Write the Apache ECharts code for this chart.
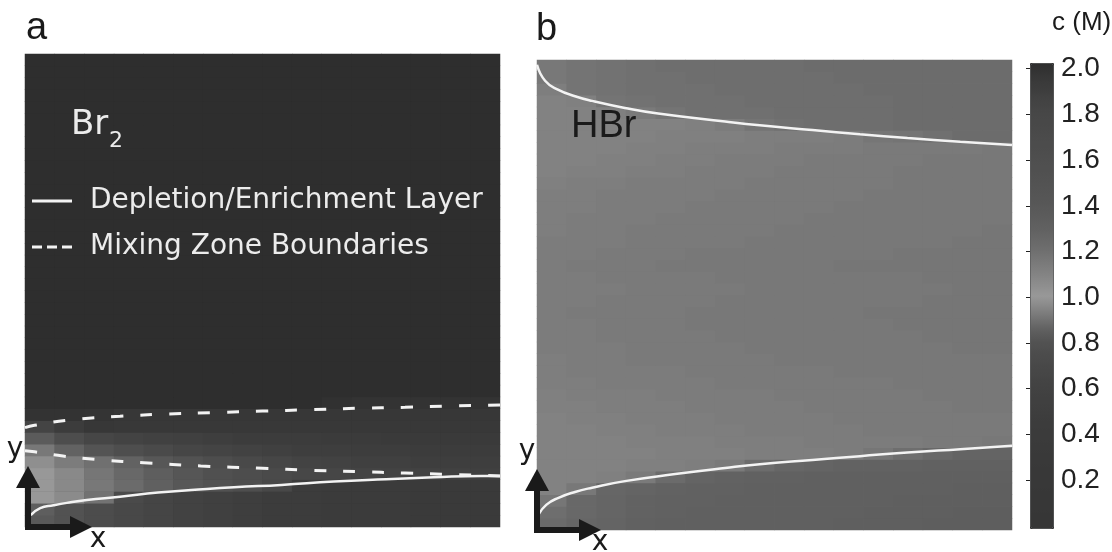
<!DOCTYPE html>
<html>
<head>
<meta charset="utf-8">
<script src="https://cdn.jsdelivr.net/npm/echarts@6/dist/echarts.min.js"></script>
<style>html,body{margin:0;padding:0;background:#fff}#c{width:1112px;height:552px}</style>
</head>
<body>
<div id="c"></div>
<script>
// ---- cell centres (fraction of channel length / height) ----
const X_CELLS = ['0.031','0.094','0.156','0.219','0.281','0.344','0.406','0.469','0.531','0.594','0.656','0.719','0.781','0.844','0.906','0.969'];
const Y_CELLS = ['0.013','0.038','0.063','0.088','0.113','0.138','0.163','0.188','0.213','0.238','0.263','0.288','0.313','0.338','0.363','0.388','0.413','0.438','0.463','0.488','0.513','0.538','0.563','0.588','0.613','0.638','0.663','0.688','0.713','0.738','0.763','0.788','0.813','0.838','0.863','0.888','0.913','0.938','0.963','0.988'];

// ---- Br2 concentration (M), rows bottom -> top, columns left -> right ----
const BR2_ROWS = [
  [0.83,0.8,0.75,0.7,0.65,0.6,0.55,0.5,0.45,0.45,0.4,0.4,0.4,0.35,0.35,0.35],
  [0.85,0.8,0.75,0.7,0.65,0.6,0.55,0.5,0.45,0.45,0.4,0.4,0.4,0.35,0.35,0.35],
  [1.0,1.06,1.18,0.72,0.65,0.6,0.55,0.5,0.45,0.45,0.4,0.4,0.4,0.35,0.35,0.35],
  [1.0,1.07,1.15,1.22,1.3,1.4,1.5,1.6,1.75,0.45,0.4,0.4,0.4,0.35,0.35,0.35],
  [1.0,1.07,1.16,1.24,1.32,1.42,1.55,1.62,1.7,1.78,1.8,1.82,1.84,1.85,1.86,1.87],
  [1.04,1.13,1.19,1.28,1.4,1.5,1.62,1.72,1.8,1.84,1.85,1.87,1.87,1.88,1.88,1.88],
  [1.15,1.28,1.45,1.6,1.7,1.8,1.83,1.85,1.87,1.88,1.88,1.89,1.89,1.9,1.9,1.9],
  [1.35,1.62,1.8,1.84,1.86,1.87,1.88,1.9,1.9,1.9,1.91,1.91,1.92,1.92,1.92,1.92],
  [1.83,1.9,1.94,1.93,1.93,1.93,1.93,1.93,1.93,1.93,1.93,1.93,1.93,1.93,1.93,1.93],
  [1.97,1.97,1.96,1.94,1.94,1.94,1.94,1.94,1.94,1.94,1.94,1.94,1.94,1.94,1.94,1.94],
  [2,2,2,2,2,2,2,2,2,2,1.98,1.97,1.97,1.97,1.97,1.97],
  [2,2,2,2,2,2,2,2,2,2,2,2,2,2,2,2],
  [2,2,2,2,2,2,2,2,2,2,2,2,2,2,2,2],
  [2,2,2,2,2,2,2,2,2,2,2,2,2,2,2,2],
  [2,2,2,2,2,2,2,2,2,2,2,2,2,2,2,2],
  [2,2,2,2,2,2,2,2,2,2,2,2,2,2,2,2],
  [2,2,2,2,2,2,2,2,2,2,2,2,2,2,2,2],
  [2,2,2,2,2,2,2,2,2,2,2,2,2,2,2,2],
  [2,2,2,2,2,2,2,2,2,2,2,2,2,2,2,2],
  [2,2,2,2,2,2,2,2,2,2,2,2,2,2,2,2],
  [2,2,2,2,2,2,2,2,2,2,2,2,2,2,2,2],
  [2,2,2,2,2,2,2,2,2,2,2,2,2,2,2,2],
  [2,2,2,2,2,2,2,2,2,2,2,2,2,2,2,2],
  [2,2,2,2,2,2,2,2,2,2,2,2,2,2,2,2],
  [2,2,2,2,2,2,2,2,2,2,2,2,2,2,2,2],
  [2,2,2,2,2,2,2,2,2,2,2,2,2,2,2,2],
  [2,2,2,2,2,2,2,2,2,2,2,2,2,2,2,2],
  [2,2,2,2,2,2,2,2,2,2,2,2,2,2,2,2],
  [2,2,2,2,2,2,2,2,2,2,2,2,2,2,2,2],
  [2,2,2,2,2,2,2,2,2,2,2,2,2,2,2,2],
  [2,2,2,2,2,2,2,2,2,2,2,2,2,2,2,2],
  [2,2,2,2,2,2,2,2,2,2,2,2,2,2,2,2],
  [2,2,2,2,2,2,2,2,2,2,2,2,2,2,2,2],
  [2,2,2,2,2,2,2,2,2,2,2,2,2,2,2,2],
  [2,2,2,2,2,2,2,2,2,2,2,2,2,2,2,2],
  [2,2,2,2,2,2,2,2,2,2,2,2,2,2,2,2],
  [2,2,2,2,2,2,2,2,2,2,2,2,2,2,2,2],
  [2,2,2,2,2,2,2,2,2,2,2,2,2,2,2,2],
  [2,2,2,2,2,2,2,2,2,2,2,2,2,2,2,2],
  [2,2,2,2,2,2,2,2,2,2,2,2,2,2,2,2]
];

// ---- HBr concentration (M), rows bottom -> top ----
const HBR_ROWS = [
  [1.22,1.25,1.27,1.29,1.3,1.3,1.3,1.3,1.3,1.3,1.31,1.31,1.31,1.32,1.32,1.32],
  [1.2,1.24,1.26,1.28,1.29,1.3,1.3,1.3,1.3,1.3,1.3,1.31,1.31,1.31,1.32,1.32],
  [1.16,1.24,1.26,1.28,1.29,1.29,1.3,1.3,1.3,1.3,1.3,1.3,1.31,1.31,1.31,1.31],
  [1.1,1.15,1.25,1.27,1.28,1.29,1.29,1.3,1.3,1.3,1.3,1.3,1.3,1.3,1.31,1.31],
  [1.1,1.1,1.11,1.14,1.22,1.27,1.28,1.29,1.29,1.3,1.3,1.3,1.3,1.3,1.3,1.3],
  [1.1,1.1,1.1,1.11,1.11,1.12,1.14,1.21,1.25,1.27,1.28,1.28,1.28,1.29,1.29,1.29],
  [1.1,1.1,1.1,1.1,1.11,1.11,1.11,1.12,1.12,1.12,1.13,1.16,1.2,1.24,1.27,1.27],
  [1.1,1.1,1.1,1.11,1.11,1.11,1.12,1.12,1.12,1.13,1.13,1.13,1.13,1.14,1.14,1.15],
  [1.1,1.1,1.11,1.11,1.12,1.12,1.12,1.13,1.13,1.13,1.13,1.14,1.14,1.14,1.14,1.14],
  [1.1,1.11,1.11,1.12,1.12,1.12,1.13,1.13,1.13,1.13,1.14,1.14,1.14,1.14,1.14,1.14],
  [1.11,1.11,1.12,1.12,1.12,1.13,1.13,1.13,1.13,1.14,1.14,1.14,1.14,1.14,1.15,1.15],
  [1.11,1.12,1.12,1.12,1.13,1.13,1.13,1.13,1.14,1.14,1.14,1.14,1.14,1.15,1.15,1.15],
  [1.12,1.12,1.13,1.13,1.13,1.13,1.14,1.14,1.14,1.14,1.14,1.14,1.15,1.15,1.15,1.15],
  [1.12,1.13,1.13,1.13,1.13,1.14,1.14,1.14,1.14,1.14,1.15,1.15,1.15,1.15,1.15,1.15],
  [1.12,1.13,1.13,1.14,1.14,1.14,1.14,1.14,1.15,1.15,1.15,1.15,1.15,1.15,1.15,1.15],
  [1.13,1.13,1.13,1.14,1.14,1.14,1.14,1.15,1.15,1.15,1.15,1.15,1.15,1.15,1.16,1.16],
  [1.13,1.13,1.14,1.14,1.14,1.14,1.15,1.15,1.15,1.15,1.15,1.15,1.15,1.16,1.16,1.16],
  [1.13,1.13,1.14,1.14,1.14,1.15,1.15,1.15,1.15,1.15,1.15,1.15,1.16,1.16,1.16,1.16],
  [1.13,1.14,1.14,1.14,1.14,1.15,1.15,1.15,1.15,1.15,1.15,1.16,1.16,1.16,1.16,1.16],
  [1.13,1.13,1.14,1.14,1.14,1.14,1.15,1.15,1.15,1.15,1.15,1.15,1.15,1.16,1.16,1.16],
  [1.13,1.13,1.13,1.14,1.14,1.14,1.14,1.15,1.15,1.15,1.15,1.15,1.15,1.15,1.16,1.16],
  [1.13,1.13,1.14,1.14,1.14,1.14,1.15,1.15,1.15,1.15,1.15,1.15,1.15,1.16,1.16,1.16],
  [1.13,1.14,1.14,1.14,1.15,1.15,1.15,1.15,1.15,1.15,1.16,1.16,1.16,1.16,1.16,1.16],
  [1.13,1.13,1.14,1.14,1.14,1.15,1.15,1.15,1.15,1.15,1.15,1.15,1.16,1.16,1.16,1.16],
  [1.13,1.13,1.13,1.14,1.14,1.14,1.14,1.15,1.15,1.15,1.15,1.15,1.15,1.15,1.16,1.16],
  [1.12,1.13,1.13,1.14,1.14,1.14,1.14,1.14,1.15,1.15,1.15,1.15,1.15,1.15,1.15,1.16],
  [1.12,1.13,1.13,1.13,1.14,1.14,1.14,1.14,1.14,1.15,1.15,1.15,1.15,1.15,1.15,1.15],
  [1.12,1.12,1.13,1.13,1.13,1.14,1.14,1.14,1.14,1.14,1.15,1.15,1.15,1.15,1.15,1.15],
  [1.12,1.12,1.13,1.13,1.13,1.13,1.14,1.14,1.14,1.14,1.14,1.15,1.15,1.15,1.15,1.15],
  [1.11,1.12,1.12,1.13,1.13,1.13,1.13,1.14,1.14,1.14,1.14,1.14,1.15,1.15,1.15,1.15],
  [1.1,1.11,1.11,1.12,1.12,1.13,1.13,1.13,1.14,1.14,1.14,1.14,1.15,1.15,1.15,1.15],
  [1.1,1.1,1.11,1.11,1.12,1.12,1.13,1.13,1.13,1.14,1.14,1.14,1.14,1.15,1.15,1.15],
  [1.1,1.1,1.1,1.11,1.11,1.12,1.12,1.12,1.13,1.13,1.13,1.14,1.14,1.14,1.14,1.15],
  [1.1,1.1,1.1,1.1,1.11,1.11,1.11,1.12,1.12,1.12,1.13,1.16,1.17,1.19,1.21,1.21],
  [1.1,1.1,1.1,1.1,1.1,1.11,1.13,1.17,1.19,1.2,1.2,1.2,1.21,1.21,1.21,1.21],
  [1.1,1.1,1.11,1.14,1.17,1.19,1.19,1.19,1.2,1.2,1.2,1.2,1.21,1.21,1.21,1.21],
  [1.1,1.11,1.17,1.18,1.19,1.19,1.19,1.2,1.2,1.2,1.2,1.2,1.21,1.21,1.21,1.21],
  [1.12,1.17,1.18,1.19,1.19,1.19,1.2,1.2,1.2,1.2,1.2,1.21,1.21,1.21,1.21,1.21],
  [1.15,1.17,1.18,1.19,1.19,1.2,1.2,1.2,1.2,1.2,1.21,1.21,1.21,1.21,1.21,1.21],
  [1.15,1.17,1.18,1.19,1.2,1.2,1.2,1.2,1.2,1.21,1.21,1.21,1.21,1.21,1.21,1.21]
];

// ---- boundary curves (x, y as fraction of channel length / height) ----
const BR2_LAYER_X = [0.012,0.032,0.06,0.088,0.13,0.2,0.28,0.35,0.44,0.54,0.65,0.76,0.86,0.96,1.0];
const BR2_LAYER_Y = [0.025,0.040,0.046,0.051,0.057,0.064,0.073,0.078,0.084,0.089,0.096,0.101,0.105,0.108,0.108];
const BR2_MIX_UPPER_X = [0,0.02,0.1,0.2,0.3,0.4,0.5,0.6,0.7,0.8,0.9,1.0];
const BR2_MIX_UPPER_Y = [0.210,0.215,0.227,0.234,0.239,0.242,0.245,0.248,0.251,0.253,0.256,0.258];
const BR2_MIX_LOWER_X = [0,0.02,0.08,0.16,0.25,0.37,0.5,0.6,0.7,0.8,0.9,1.0];
const BR2_MIX_LOWER_Y = [0.161,0.159,0.150,0.142,0.136,0.129,0.124,0.120,0.117,0.114,0.111,0.108];
const HBR_TOP_X = [0,0.017,0.044,0.08,0.116,0.185,0.255,0.396,0.469,0.58,0.68,0.78,0.891,1.0];
const HBR_TOP_Y = [0.99,0.956,0.937,0.923,0.913,0.898,0.886,0.869,0.861,0.851,0.842,0.834,0.826,0.819];
const HBR_BOTTOM_X = [0.004,0.02,0.044,0.08,0.116,0.185,0.291,0.396,0.469,0.58,0.68,0.78,0.891,1.0];
const HBR_BOTTOM_Y = [0.034,0.054,0.068,0.081,0.090,0.104,0.119,0.132,0.140,0.149,0.157,0.165,0.172,0.179];

// ---- colour bar ----
const CB_TICKS = [0.2,0.4,0.6,0.8,1.0,1.2,1.4,1.6,1.8,2.0];
const CB_MIN = 0, CB_MAX = 2;

// grayscale colour map, value 0 -> 2 in steps of 0.05
const GRAYS = ['#363636','#363636','#373737','#373737','#383838','#383838','#393939','#3a3a3a','#3b3b3b','#3c3c3c',
  '#3e3e3e','#404040','#424242','#454545','#484848','#4c4c4c','#525252','#5e5e5e','#727272','#868686',
  '#989898','#8d8d8d','#828282','#787878','#6e6e6e','#666666','#606060','#5b5b5b','#575757','#545454',
  '#525252','#505050','#4e4e4e','#4c4c4c','#4a4a4a','#484848','#464646','#424242','#3c3c3c','#363636','#2e2e2e'];

function toCells(rows) {
  const out = [];
  rows.forEach((row, j) => row.forEach((v, i) => out.push([i, j, v])));
  return out;
}
function zip(xs, ys) { return xs.map((x, k) => [x, ys[k]]); }

const LINE_COLOR = '#f3f3f3';
const SANS = '"Liberation Sans", Arial, sans-serif';
const HUMAN = '"DejaVu Sans", "Open Sans", sans-serif';

const chart = echarts.init(document.getElementById('c'), null, {renderer: 'canvas'});

function arrow(x0, y0) {
  return [
    {type: 'rect', z: 100, shape: {x: x0, y: y0 - 42, width: 6, height: 45}, style: {fill: '#1a1a1a'}},
    {type: 'polygon', z: 100, shape: {points: [[x0 - 9, y0 - 39], [x0 + 15, y0 - 39], [x0 + 3, y0 - 61]]}, style: {fill: '#1a1a1a'}},
    {type: 'rect', z: 100, shape: {x: x0, y: y0 - 3, width: 48, height: 6}, style: {fill: '#1a1a1a'}},
    {type: 'polygon', z: 100, shape: {points: [[x0 + 45, y0 - 11], [x0 + 45, y0 + 11], [x0 + 67, y0]]}, style: {fill: '#1a1a1a'}}
  ];
}
function txt(text, x, y, font, fill, align) {
  return {type: 'text', z: 100, style: {text: text, x: x, y: y, font: font, fill: fill,
    textAlign: align || 'left', align: align || 'left', textVerticalAlign: 'middle', verticalAlign: 'middle'}};
}

const option = {
  animation: false,
  backgroundColor: '#ffffff',
  textStyle: {fontFamily: SANS},
  grid: [
    {left: 25, top: 54, width: 475, height: 473, show: true, backgroundColor: '#2e2e2e', borderWidth: 0},
    {left: 537, top: 60, width: 475, height: 470, show: true, backgroundColor: '#7a7a7a', borderWidth: 0},
    {left: 1030, top: 68.7, width: 23, height: 457}
  ],
  xAxis: [
    {type: 'category', gridIndex: 0, data: X_CELLS, show: false},
    {type: 'value', gridIndex: 0, min: 0, max: 1, show: false},
    {type: 'category', gridIndex: 1, data: X_CELLS, show: false},
    {type: 'value', gridIndex: 1, min: 0, max: 1, show: false},
    {type: 'value', gridIndex: 2, min: 0, max: 1, show: false}
  ],
  yAxis: [
    {type: 'category', gridIndex: 0, data: Y_CELLS, show: false},
    {type: 'value', gridIndex: 0, min: 0, max: 1, show: false},
    {type: 'category', gridIndex: 1, data: Y_CELLS, show: false},
    {type: 'value', gridIndex: 1, min: 0, max: 1, show: false},
    {type: 'value', gridIndex: 2, min: CB_MIN, max: CB_MAX, position: 'right',
      axisLine: {show: false},
      splitLine: {show: false},
      axisTick: {show: true, inside: true, length: 4, lineStyle: {color: '#222', width: 1}, customValues: CB_TICKS},
      axisLabel: {customValues: CB_TICKS, formatter: v => v.toFixed(1), fontSize: 28, color: '#222', margin: 8, fontFamily: SANS}
    }
  ],
  visualMap: {
    type: 'continuous', min: CB_MIN, max: CB_MAX, seriesIndex: [0, 1],
    calculable: false, orient: 'vertical', left: 1030, top: 63,
    itemWidth: 23, itemHeight: 465, padding: 0, text: null,
    borderColor: '#333', borderWidth: 1,
    inRange: {color: GRAYS}
  },
  legend: {
    data: [
      {name: 'Depletion/Enrichment Layer', icon: 'rect'},
      {name: 'Mixing Zone Boundaries', icon: 'path://M0,0h10v3h-10z M15,0h10v3h-10z M30,0h10v3h-10z'}
    ],
    orient: 'vertical', left: 32, top: 187, padding: 0,
    itemWidth: 40, itemHeight: 3, itemGap: 18,
    selectedMode: false,
    textStyle: {color: '#ececec', fontSize: 28, fontFamily: HUMAN, padding: [0, 0, 0, 13]}
  },
  graphic: [
    txt('a', 26, 29, '38px ' + SANS, '#1a1a1a'),
    txt('b', 536, 30, '38px ' + SANS, '#1a1a1a'),
    txt('c (M)', 1052, 23, '26px ' + SANS, '#1a1a1a'),
    txt('Br', 71, 125, '34px ' + HUMAN, '#ececec'),
    txt('2', 109, 141, '22px ' + HUMAN, '#ececec'),
    txt('HBr', 571, 127, '38px ' + SANS, '#1a1a1a'),
    txt('y', 15, 450, '28px ' + HUMAN, '#1a1a1a', 'center'),
    txt('x', 98, 540, '28px ' + HUMAN, '#1a1a1a', 'center'),
    txt('y', 527, 452, '28px ' + HUMAN, '#1a1a1a', 'center'),
    txt('x', 600, 543, '28px ' + HUMAN, '#1a1a1a', 'center')
  ].concat(arrow(25, 527)).concat(arrow(534, 530)),
  series: [
    {type: 'heatmap', name: 'Br2', xAxisIndex: 0, yAxisIndex: 0, data: toCells(BR2_ROWS),
      itemStyle: {borderWidth: 0}, emphasis: {disabled: true}},
    {type: 'heatmap', name: 'HBr', xAxisIndex: 2, yAxisIndex: 2, data: toCells(HBR_ROWS),
      itemStyle: {borderWidth: 0}, emphasis: {disabled: true}},
    {type: 'line', name: 'Depletion/Enrichment Layer', xAxisIndex: 1, yAxisIndex: 1, z: 5,
      data: zip(BR2_LAYER_X, BR2_LAYER_Y), smooth: true, symbol: 'none', color: LINE_COLOR,
      lineStyle: {color: LINE_COLOR, width: 2.5}},
    {type: 'line', name: 'Mixing Zone Boundaries', xAxisIndex: 1, yAxisIndex: 1, z: 5,
      data: zip(BR2_MIX_UPPER_X, BR2_MIX_UPPER_Y), smooth: true, symbol: 'none', color: LINE_COLOR,
      lineStyle: {color: LINE_COLOR, width: 3, type: [12, 17]}},
    {type: 'line', name: 'Mixing Zone Boundaries', xAxisIndex: 1, yAxisIndex: 1, z: 5,
      data: zip(BR2_MIX_LOWER_X, BR2_MIX_LOWER_Y), smooth: true, symbol: 'none', color: LINE_COLOR,
      lineStyle: {color: LINE_COLOR, width: 3, type: [12, 17]}},
    {type: 'line', name: 'Depletion/Enrichment Layer', xAxisIndex: 3, yAxisIndex: 3, z: 5,
      data: zip(HBR_TOP_X, HBR_TOP_Y), smooth: true, symbol: 'none', color: LINE_COLOR,
      lineStyle: {color: LINE_COLOR, width: 2.5}},
    {type: 'line', name: 'Depletion/Enrichment Layer', xAxisIndex: 3, yAxisIndex: 3, z: 5,
      data: zip(HBR_BOTTOM_X, HBR_BOTTOM_Y), smooth: true, symbol: 'none', color: LINE_COLOR,
      lineStyle: {color: LINE_COLOR, width: 2.5}}
  ]
};
chart.setOption(option);
</script>
</body>
</html>
